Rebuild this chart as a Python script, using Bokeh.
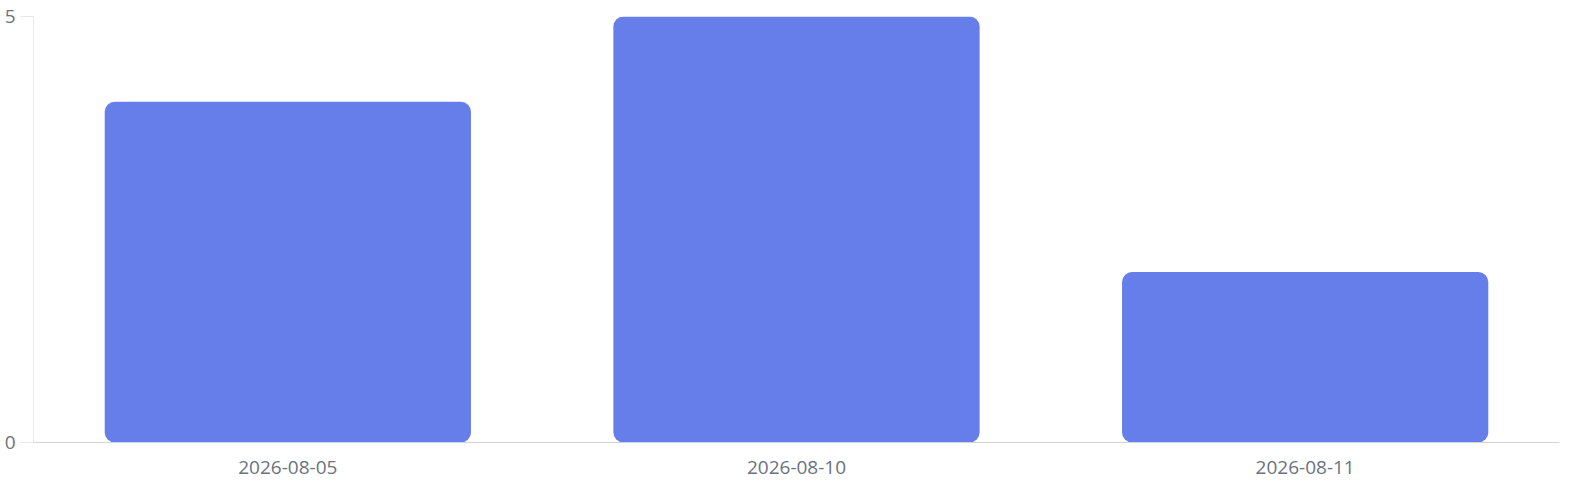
from bokeh.plotting import figure
from bokeh.models import ColumnDataSource, FactorRange, Range1d, FixedTicker
from bokeh.embed import file_html
from bokeh.resources import INLINE

categories = ["2026-08-05", "2026-08-10", "2026-08-11"]
values = [4, 5, 2]
y_ticks = [0, 5]

source = ColumnDataSource(data=dict(x=categories, top=values))

p = figure(
    x_range=FactorRange(*categories, range_padding=0),
    y_range=Range1d(0, 5),
    width=1561, height=479,
    output_backend="svg", toolbar_location=None,
    min_border_left=33, min_border_right=2, min_border_top=16, min_border_bottom=37,
)
p.outline_line_color = None
p.background_fill_color = "white"
p.border_fill_color = "white"

p.vbar(x="x", top="top", bottom=0, width=0.72, source=source,
       fill_color="#667eea", line_color=None, border_radius=10)

FONT = "Open Sans"
LABEL_COLOR = "#6b7280"

yax = p.yaxis[0]
yax.ticker = FixedTicker(ticks=y_ticks)
yax.minor_tick_line_color = None
yax.major_tick_in = 0
yax.major_tick_out = 13
yax.major_tick_line_color = "#e5e7eb"
yax.axis_line_color = "#e5e7eb"
yax.major_label_standoff = 5
yax.major_label_text_font = FONT
yax.major_label_text_font_size = "19px"
yax.major_label_text_color = LABEL_COLOR

xax = p.xaxis[0]
xax.major_tick_line_color = None
xax.minor_tick_line_color = None
xax.axis_line_color = "#d1d5db"
xax.major_label_standoff = 12
xax.major_label_text_font = FONT
xax.major_label_text_font_size = "19px"
xax.major_label_text_color = LABEL_COLOR

p.xgrid.grid_line_color = None
p.ygrid.ticker = FixedTicker(ticks=y_ticks)
p.ygrid.grid_line_color = "#eeeeee"

open("out.html", "w").write(file_html(p, INLINE))
